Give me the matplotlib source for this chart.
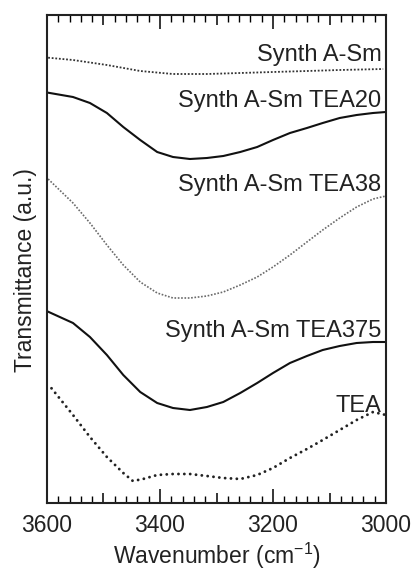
import matplotlib
matplotlib.use("Agg")
import matplotlib.pyplot as plt
from matplotlib.ticker import MultipleLocator, FixedLocator, FuncFormatter

plt.rcParams['font.family'] = ['Liberation Sans', 'DejaVu Sans']

# wavenumbers (cm^-1) at which curves were read
wn_main = [3598, 3554, 3524, 3494, 3465, 3435, 3405, 3377, 3347, 3317, 3288,
           3258, 3228, 3200, 3170, 3140, 3112, 3082, 3052, 3023, 3000]
tea20 = [410.3, 406, 400, 390, 376, 363, 351, 346, 344, 345, 347,
         351, 356, 363, 370, 375, 380, 385, 388, 390, 391]
tea38 = [324, 300, 280, 258, 238, 221, 210, 205, 205, 207, 211,
         218, 226, 236, 248, 261, 273, 285, 296, 304, 307]
tea375 = [191.3, 180, 166, 148, 128, 111, 100, 95, 93, 96, 101,
          110, 120, 130, 140, 147, 153, 157, 160, 161, 161]

wn_asm = [3598, 3554, 3494, 3435, 3377, 3317, 3258, 3200, 3140, 3082, 3005]
asm = [445.3, 443, 438, 432, 429, 429, 430, 431, 432, 433, 434]

wn_tea = [3592, 3554, 3524, 3494, 3465, 3448, 3430, 3405, 3377, 3347, 3317,
          3288, 3258, 3228, 3200, 3170, 3140, 3112, 3082, 3052, 3023, 3000]
tea = [114.7, 88, 66, 46, 30, 22, 24, 28, 29, 29, 27,
       25, 24, 28, 35, 45, 54, 63, 73, 83, 91, 88]

labels = ["Synth A-Sm", "Synth A-Sm TEA20", "Synth A-Sm TEA38",
          "Synth A-Sm TEA375", "TEA"]
label_y = [442, 396, 312, 166, 91]

major_ticks = [3600, 3500, 3400, 3300, 3200, 3100, 3000]
labelled_ticks = [3600, 3400, 3200, 3000]

fig = plt.figure(figsize=(4.11, 5.74), dpi=100)
ax = fig.add_axes([47/411, 71/574, 339/411, 488/574])

txtc = '#222222'
ax.plot(wn_asm, asm, color='#333333', lw=1.3, ls=(0, (1, 1)))
ax.plot(wn_main, tea20, color='#111111', lw=1.5, ls='-')
ax.plot(wn_main, tea38, color='#6a6a6a', lw=1.2, ls=(0, (1, 1)))
ax.plot(wn_main, tea375, color='#111111', lw=1.5, ls='-')
ax.plot(wn_tea, tea, color='#222222', lw=2.1, ls=(0, (0.01, 2.0)),
        dash_capstyle='round')

for lab, y in zip(labels, label_y):
    ax.text(3008, y, lab, ha='right', va='baseline', fontsize=17, color=txtc)

ax.set_xlim(3600, 3000)
ax.set_ylim(0, 488)
ax.set_yticks([])
ax.xaxis.set_major_locator(FixedLocator(major_ticks))
ax.xaxis.set_major_formatter(FuncFormatter(
    lambda v, p: f"{int(round(v))}" if int(round(v)) in labelled_ticks else ""))
ax.xaxis.set_minor_locator(MultipleLocator(20))
ax.tick_params(axis='x', which='major', direction='in', length=7.5, width=1.1,
               top=True, bottom=True, labeltop=False, labelbottom=True,
               labelsize=16.5, labelcolor=txtc, pad=8)
ax.tick_params(axis='x', which='minor', direction='in', length=5, width=1.0,
               top=True, bottom=True)

for s in ax.spines.values():
    s.set_linewidth(1.5)
    s.set_color('#222222')

ax.set_xlabel('Wavenumber (cm$^{\\mathregular{-1}}$)', fontsize=16.5, color=txtc, labelpad=3)
ax.set_ylabel('Transmittance (a.u.)', fontsize=16.5, color=txtc)
ax.yaxis.set_label_coords(-0.03, 0.477)

fig.canvas.draw()
for loc, tick in zip(ax.xaxis.get_majorticklocs(), ax.xaxis.get_major_ticks()):
    if int(round(loc)) in labelled_ticks:
        tick.tick1line.set_markersize(10)
        tick.tick2line.set_markersize(10)

fig.savefig('out.png', dpi=100)
